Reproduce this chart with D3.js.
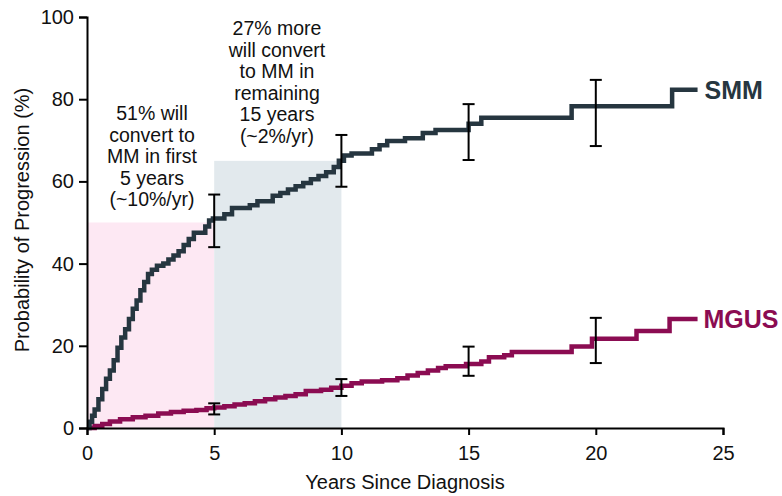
<!DOCTYPE html>
<html>
<head>
<meta charset="utf-8">
<script src="https://cdn.jsdelivr.net/npm/d3@7"></script>
<style>
  body { margin: 0; background: #fff; }
  svg { display: block; font-family: "Liberation Sans", Arial, sans-serif; }
</style>
</head>
<body>
<div id="chart"></div>
<script>
// Kaplan-Meier style progression curves (years, %)
var smmYears = [0, 0.1, 0.2, 0.3, 0.45, 0.6, 0.75, 0.9, 1.05, 1.2, 1.35, 1.5, 1.65, 1.8, 1.95, 2.1, 2.25, 2.4, 2.55, 2.75, 3.0, 3.2, 3.4, 3.6, 3.8, 4.0, 4.2, 4.65, 4.8, 4.95, 5.4, 5.7, 6.4, 6.7, 7.3, 7.6, 7.9, 8.2, 8.5, 8.8, 9.1, 9.4, 9.7, 9.9, 10.1, 10.4, 11.2, 11.5, 11.8, 12.5, 13.2, 13.7, 15.0, 15.5, 19.05, 23.0, 24.0];
var smmValues = [0, 1.5, 3, 4.5, 7, 9.5, 12, 14, 16.5, 19.5, 22, 24, 26.5, 29, 31, 33.5, 35.5, 37.5, 38.5, 39.5, 40, 41, 42, 43, 44.5, 46, 47.5, 49, 50.5, 51, 52, 53.5, 54.2, 55.2, 56.5, 57.2, 58, 58.8, 59.6, 60.5, 61.3, 62.2, 63.5, 65, 66.3, 66.8, 67.8, 68.8, 69.8, 70.5, 71.8, 72.5, 74, 75.5, 78.3, 82.3, 82.3];

var mgusYears = [0, 0.3, 0.6, 0.9, 1.3, 1.8, 2.3, 2.8, 3.3, 3.8, 4.3, 4.7, 5.0, 5.4, 5.8, 6.2, 6.6, 7.0, 7.4, 7.8, 8.2, 8.6, 9.2, 9.6, 10.0, 10.4, 10.8, 11.6, 12.2, 12.6, 13.0, 13.4, 13.8, 14.1, 14.9, 15.5, 15.8, 16.4, 16.7, 19.05, 19.85, 21.6, 22.9, 24.0];
var mgusValues = [0, 0.5, 1, 1.6, 2.1, 2.6, 3.0, 3.5, 3.9, 4.2, 4.4, 4.8, 5.0, 5.3, 5.7, 6.0, 6.5, 7.0, 7.4, 7.8, 8.2, 9.0, 9.3, 9.8, 10.3, 10.9, 11.3, 11.6, 12.1, 12.8, 13.4, 14.0, 14.6, 15.0, 15.6, 16.2, 17.2, 17.7, 18.5, 19.8, 21.7, 23.6, 26.5, 26.5];

// confidence interval bars
var ciYears = [5, 10, 15, 20];
var smmLower = [44, 58.7, 65.2, 68.6];
var smmUpper = [56.8, 71.3, 78.8, 84.7];
var mgusLower = [3.3, 7.8, 12.7, 15.8];
var mgusUpper = [6, 11.9, 19.8, 26.8];

// shaded periods
var bandStart = [0, 5];
var bandEnd = [5, 10];
var bandTop = [50, 65];

var xTicks = [0, 5, 10, 15, 20, 25];
var yTicks = [0, 20, 40, 60, 80, 100];

var leftNote = ["51% will", "convert to", "MM in first", "5 years", "(~10%/yr)"];
var topNote = ["27% more", "will convert", "to MM in", "remaining", "15 years", "(~2%/yr)"];

var width = 782,
  height = 496;
var margin = { top: 17, right: 59, bottom: 68, left: 87 };

var smmColor = "#263640",
  mgusColor = "#8b0c52";

var x = d3.scaleLinear([0, 25], [margin.left, width - margin.right]);
var y = d3.scaleLinear([0, 100], [height - margin.bottom, margin.top]);

var svg = d3.select("#chart").append("svg").attr("width", width).attr("height", height);

// background bands
svg
  .append("g")
  .selectAll("rect")
  .data(bandStart)
  .join("rect")
  .attr("x", function (d) { return x(d); })
  .attr("y", function (d, i) { return y(bandTop[i]); })
  .attr("width", function (d, i) { return x(bandEnd[i]) - x(d); })
  .attr("height", function (d, i) { return y(0) - y(bandTop[i]); })
  .attr("fill", function (d, i) { return i === 0 ? "#fde8f3" : "#e2e9ed"; });

function toPoints(xs, vs) {
  return xs.map(function (t, i) { return [t, vs[i]]; });
}

var line = d3
  .line()
  .x(function (d) { return x(d[0]); })
  .y(function (d) { return y(d[1]); })
  .curve(d3.curveStepAfter);

// error bars
function drawBars(lower, upper) {
  var g = svg.append("g").attr("stroke", "#000").attr("stroke-width", 2).attr("fill", "none");
  ciYears.forEach(function (t, i) {
    var cx = x(t);
    g.append("line").attr("x1", cx).attr("x2", cx).attr("y1", y(lower[i])).attr("y2", y(upper[i]));
    g.append("line").attr("x1", cx - 6).attr("x2", cx + 6).attr("y1", y(lower[i])).attr("y2", y(lower[i]));
    g.append("line").attr("x1", cx - 6).attr("x2", cx + 6).attr("y1", y(upper[i])).attr("y2", y(upper[i]));
  });
}

svg
  .append("path")
  .datum(toPoints(mgusYears, mgusValues))
  .attr("fill", "none")
  .attr("stroke", mgusColor)
  .attr("stroke-width", 4.5)
  .attr("d", line);

svg
  .append("path")
  .datum(toPoints(smmYears, smmValues))
  .attr("fill", "none")
  .attr("stroke", smmColor)
  .attr("stroke-width", 4.5)
  .attr("d", line);

drawBars(smmLower, smmUpper);
drawBars(mgusLower, mgusUpper);

// axes
var xAxis = svg
  .append("g")
  .attr("transform", "translate(0," + y(0) + ")")
  .call(d3.axisBottom(x).tickValues(xTicks).tickSize(7).tickPadding(11));
var yAxis = svg
  .append("g")
  .attr("transform", "translate(" + x(0) + ",0)")
  .call(d3.axisLeft(y).tickValues(yTicks).tickSize(8).tickPadding(5));

[xAxis, yAxis].forEach(function (a) {
  a.select(".domain").attr("stroke", "#000").attr("stroke-width", 2);
  a.selectAll(".tick line").attr("stroke", "#000").attr("stroke-width", 2);
  a.selectAll(".tick text")
    .attr("fill", "#111")
    .attr("font-size", 20)
    .attr("font-family", "'Liberation Sans', Arial, sans-serif");
});

svg
  .append("text")
  .attr("x", (margin.left + width - margin.right) / 2)
  .attr("y", 489)
  .attr("text-anchor", "middle")
  .attr("font-size", 20)
  .attr("fill", "#111")
  .text("Years Since Diagnosis");

svg
  .append("text")
  .attr("transform", "translate(29,220) rotate(-90)")
  .attr("text-anchor", "middle")
  .attr("font-size", 20)
  .attr("fill", "#111")
  .text("Probability of Progression (%)");

// annotations
function note(lines, cx, firstBaseline) {
  svg
    .append("text")
    .attr("text-anchor", "middle")
    .attr("font-size", 19.5)
    .attr("fill", "#111")
    .selectAll("tspan")
    .data(lines)
    .join("tspan")
    .attr("x", cx)
    .attr("y", function (d, i) { return firstBaseline + i * 21.6; })
    .text(function (d) { return d; });
}
note(leftNote, 152, 120);
note(topNote, 277, 35);

// series labels
svg
  .append("text")
  .attr("x", x(24) + 7)
  .attr("y", y(82.3) + 9)
  .attr("font-size", 25)
  .attr("font-weight", "bold")
  .attr("fill", smmColor)
  .text("SMM");
svg
  .append("text")
  .attr("x", x(24) + 6)
  .attr("y", y(26.5) + 9)
  .attr("font-size", 25)
  .attr("font-weight", "bold")
  .attr("fill", mgusColor)
  .text("MGUS");
</script>
</body>
</html>
